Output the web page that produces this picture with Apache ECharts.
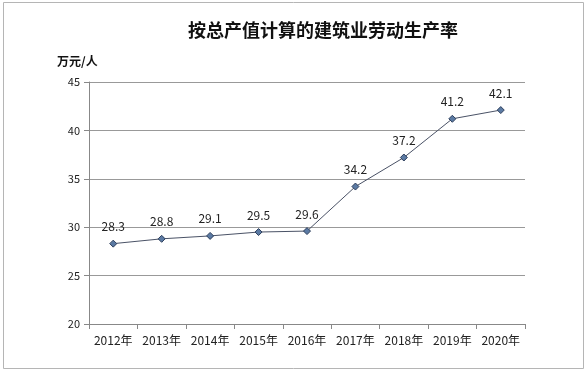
<!DOCTYPE html>
<html><head><meta charset="utf-8">
<script src="https://cdn.jsdelivr.net/npm/echarts@6/dist/echarts.min.js"></script>
<style>html,body{margin:0;padding:0;background:#fff}#c{width:588px;height:372px}</style>
</head><body><div id="c"></div>
<script>
const title = '按总产值计算的建筑业劳动生产率';
const unit = '万元/人';
const categories = ['2012年','2013年','2014年','2015年','2016年','2017年','2018年','2019年','2020年'];
const values = [28.3, 28.8, 29.1, 29.5, 29.6, 34.2, 37.2, 41.2, 42.1];
const yMin = 20, yMax = 45, yStep = 5;

const font = '"Microsoft YaHei","Noto Sans CJK SC",sans-serif';
const chart = echarts.init(document.getElementById('c'), null, {renderer: 'canvas'});
chart.setOption({
  animation: false,
  backgroundColor: '#fff',
  graphic: [{type: 'rect', shape: {x: 3.5, y: 2.5, width: 580, height: 366},
    style: {fill: 'none', stroke: '#b5b5b5', lineWidth: 1}, silent: true}],
  title: [
    {text: title, left: 318, top: 16, textAlign: 'center',
      textStyle: {fontFamily: font, fontSize: 18, fontWeight: 'bold', color: '#111'}},
    {text: unit, left: 52, top: 50,
      textStyle: {fontFamily: font, fontSize: 12, fontWeight: 'bold', color: '#111'}}
  ],
  grid: {left: 89, right: 63, top: 82, bottom: 48, containLabel: false},
  xAxis: {type: 'category', data: categories, boundaryGap: true,
    axisLine: {lineStyle: {color: '#888'}},
    axisTick: {show: true, alignWithLabel: false, interval: 0, length: 5, lineStyle: {color: '#888'}},
    axisLabel: {interval: 0, color: '#222', fontFamily: font, fontSize: 12, margin: 10}},
  yAxis: {type: 'value', min: yMin, max: yMax, interval: yStep,
    axisLine: {show: true, lineStyle: {color: '#888'}},
    axisTick: {show: true, length: 5, lineStyle: {color: '#888'}},
    axisLabel: {color: '#222', fontFamily: font, fontSize: 11, margin: 9},
    splitLine: {lineStyle: {color: '#999'}}},
  series: [{type: 'line', data: values, symbol: 'diamond', symbolSize: 7,
    lineStyle: {color: '#4a5266', width: 1},
    itemStyle: {color: '#5b7aa3', borderColor: '#2e3f5c', borderWidth: 1},
    label: {show: true, position: 'top', distance: 7, color: '#222', fontFamily: font, fontSize: 12,
      formatter: p => p.value.toFixed(1)}}]
});
</script></body></html>
